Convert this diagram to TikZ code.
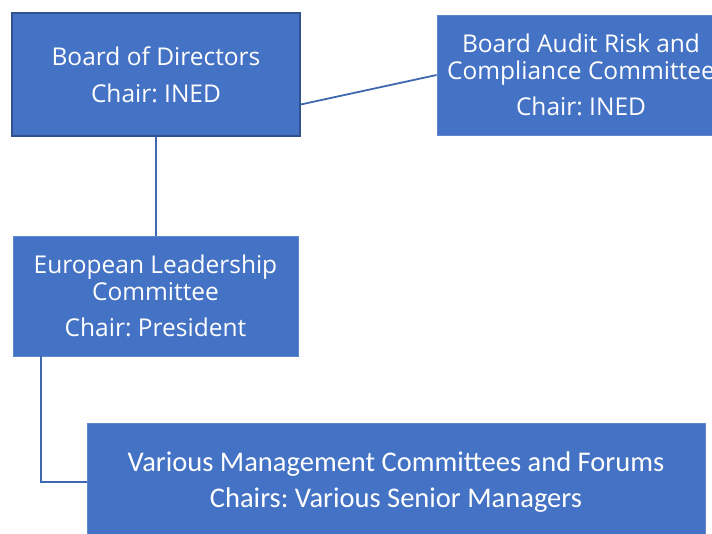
\documentclass[tikz,border=0pt]{standalone}
\usepackage{fontspec}
\setmainfont{Open Sans}
\newfontfamily\calfont{Carlito}
\definecolor{boxblue}{HTML}{4472C4}
\definecolor{boxedge}{HTML}{2F528F}
\definecolor{linkblue}{HTML}{4068B0}
\frenchspacing
\begin{document}
\begin{tikzpicture}[x=1pt,y=-1pt,
  orgbox/.style={rectangle, fill=boxblue, draw=boxblue!85!white, line width=0.8pt,
    text=white, align=center, inner sep=0pt, font=\frenchspacing\fontsize{24.5}{27}\selectfont},
  link/.style={draw=linkblue, line width=1.8pt}]
\useasboundingbox (0,0) rectangle (712,534);
\node[orgbox, draw=boxedge, line width=1.4pt, minimum width=288pt, minimum height=123pt] (b1) at (156,74.5)
  {Board of Directors\\[10pt]Chair: INED};
\node[orgbox, minimum width=288pt, minimum height=120pt] (b2) at (581,75)
  {Board Audit Risk and\\Compliance Committee\\[9pt]Chair: INED};
\node[orgbox, minimum width=285pt, minimum height=120pt] (b3) at (155.5,296)
  {European Leadership\\Committee\\[9pt]Chair: President};
\node[orgbox, minimum width=618pt, minimum height=118pt, font=\frenchspacing\calfont\fontsize{28.5}{36}\selectfont] (b4) at (396,482)
  {Various Management Committees and Forums\\Chairs: Various Senior Managers};
\draw[link] (b1.south) -- (b1.south |- b3.north);
\draw[link] ([yshift=-30pt]b1.east) -- (b2.west);
\draw[link] ([xshift=28pt]b3.south west) |- (b4.west);
\end{tikzpicture}
\end{document}
